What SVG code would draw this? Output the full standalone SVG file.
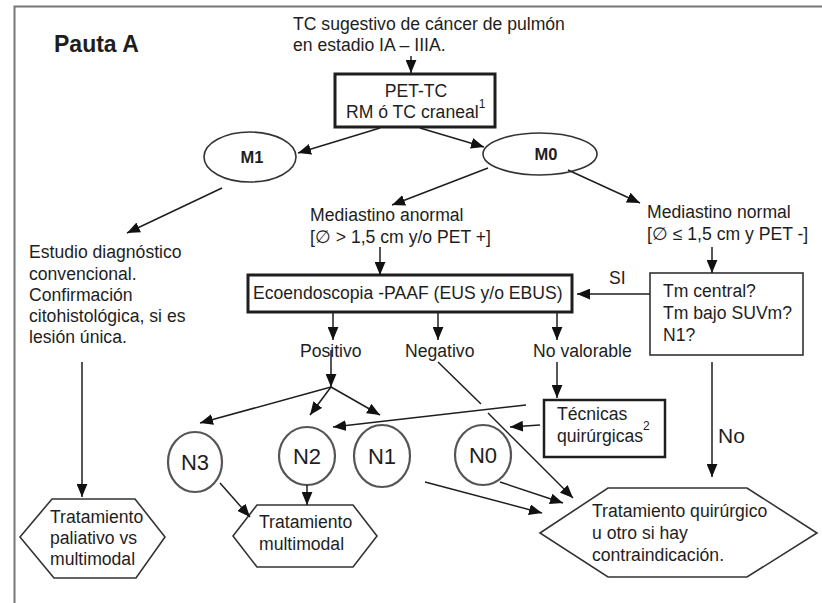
<svg xmlns="http://www.w3.org/2000/svg" width="822" height="603" viewBox="0 0 822 603">
<defs>
<style>
text{font-family:"Liberation Sans",Arial,sans-serif;font-size:17.6px;fill:#1e1e1e}
.b{font-weight:bold}
.c{text-anchor:middle}
.sup{font-size:12px}
.n{font-size:22px}
.m{font-size:16.5px;font-weight:bold}
.box{fill:#fff;stroke:#1e1e1e;stroke-width:3}
.thin{fill:#fff;stroke:#333;stroke-width:1.6}
.hex{fill:#fff;stroke:#333;stroke-width:1.6}
.circ{fill:#fff;stroke:#555;stroke-width:2.2}
.conn line,.conn path{stroke:#1e1e1e;stroke-width:1.5;fill:none}
.arr{marker-end:url(#ah)}
</style>
<marker id="ah" viewBox="0 0 12 10" refX="12" refY="5" markerWidth="13" markerHeight="11" markerUnits="userSpaceOnUse" orient="auto">
<path d="M0,0 L12,5 L0,10 z" fill="#111"/>
</marker>
</defs>
<rect width="822" height="603" fill="#fff"/>
<path d="M14.5,603 V6.5 H822" fill="none" stroke="#777" stroke-width="2"/>
<g id="title"><text x="54" y="52" class="b" style="font-size:23px">Pauta A</text></g>

<g id="start">
<text x="293" y="30">TC sugestivo de cáncer de pulmón</text>
<text x="293" y="51">en estadio IA – IIIA.</text>
</g>

<g id="pet">
<rect x="335" y="74" width="160" height="53" class="box"/>
<text x="416" y="97" class="c">PET-TC</text>
<text x="346" y="118">RM ó TC craneal<tspan class="sup" dy="-10">1</tspan></text>
</g>

<g id="m1">
<ellipse cx="250" cy="157" rx="46" ry="25" class="thin"/>
<text x="252" y="163" class="c m">M1</text>
</g>
<g id="m0">
<ellipse cx="540" cy="154" rx="57" ry="21" class="thin"/>
<text x="546" y="160" class="c m">M0</text>
</g>

<g id="estudio">
<text x="29" y="258">Estudio diagnóstico</text>
<text x="29" y="280">convencional.</text>
<text x="29" y="301">Confirmación</text>
<text x="29" y="322">citohistológica, si es</text>
<text x="29" y="343">lesión única.</text>
</g>

<g id="med-anormal">
<text x="310" y="221">Mediastino anormal</text>
<text x="310" y="243">[∅ &gt; 1,5 cm y/o PET +]</text>
</g>
<g id="med-normal">
<text x="647" y="218">Mediastino normal</text>
<text x="647" y="240">[∅ ≤ 1,5 cm y PET -]</text>
</g>

<g id="eco">
<rect x="248" y="275" width="324" height="37" class="box"/>
<text x="253" y="299">Ecoendoscopia -PAAF (EUS y/o EBUS)</text>
</g>

<g id="tm">
<rect x="650" y="273" width="153" height="82" class="thin"/>
<text x="663" y="297">Tm central?</text>
<text x="663" y="319">Tm bajo SUVm?</text>
<text x="663" y="341">N1?</text>
</g>

<g id="positivo"><text x="300" y="357">Positivo</text></g>
<g id="negativo"><text x="405" y="357">Negativo</text></g>
<g id="novalorable"><text x="533" y="357">No valorable</text></g>

<g id="tecnicas">
<rect x="544" y="400" width="121" height="57" class="box" style="stroke-width:2.5"/>
<text x="557" y="420">Técnicas</text>
<text x="557" y="442">quirúrgicas<tspan class="sup" dy="-12">2</tspan></text>
</g>

<g id="n3"><ellipse cx="195" cy="462" rx="27" ry="30" class="circ"/><text x="195" y="470" class="c n">N3</text></g>
<g id="n2"><ellipse cx="307" cy="456" rx="28" ry="29" class="circ"/><text x="307" y="464" class="c n">N2</text></g>
<g id="n1"><ellipse cx="382" cy="456" rx="28" ry="31" class="circ"/><text x="382" y="464" class="c n">N1</text></g>
<g id="n0"><ellipse cx="483" cy="455" rx="28" ry="30" class="circ"/><text x="483" y="463" class="c n">N0</text></g>

<g id="paliativo">
<polygon points="20,537 52,499 135,499 165,537 136,578 54,578" class="hex"/>
<text x="50" y="523">Tratamiento</text>
<text x="50" y="544">paliativo vs</text>
<text x="50" y="565">multimodal</text>
</g>

<g id="multimodal">
<polygon points="233,536 257,505 353,505 377,536 353,567 257,567" class="hex"/>
<text x="259" y="528">Tratamiento</text>
<text x="259" y="550">multimodal</text>
</g>

<g id="quirurgico">
<polygon points="540,533 608,488 747,488 817,533 747,577 608,577" class="hex"/>
<text x="592" y="517">Tratamiento quirúrgico</text>
<text x="592" y="539">u otro si hay</text>
<text x="592" y="561">contraindicación.</text>
</g>

<g id="labels">
<text x="609" y="284">SI</text>
<text x="718" y="443" style="font-size:21px">No</text>
</g>

<g class="conn" id="connectors">
<line x1="411" y1="56" x2="411" y2="73" class="arr"/>
<line x1="380" y1="128" x2="298" y2="153" class="arr"/>
<line x1="420" y1="128" x2="484" y2="147" class="arr"/>
<line x1="222" y1="188" x2="127" y2="233" class="arr"/>
<line x1="488" y1="168" x2="392" y2="205" class="arr"/>
<line x1="568" y1="170" x2="640" y2="203" class="arr"/>
<line x1="380" y1="247" x2="380" y2="275" class="arr"/>
<line x1="712" y1="247" x2="712" y2="273" class="arr"/>
<line x1="650" y1="294" x2="577" y2="294" class="arr"/>
<line x1="333" y1="312" x2="333" y2="340" class="arr"/>
<line x1="438" y1="312" x2="438" y2="340" class="arr"/>
<line x1="557" y1="312" x2="557" y2="340" class="arr"/>
<line x1="331" y1="350" x2="331" y2="387" class="arr"/>
<line x1="331" y1="387" x2="200" y2="423" class="arr"/>
<line x1="331" y1="387" x2="310" y2="415" class="arr"/>
<line x1="331" y1="387" x2="380" y2="415" class="arr"/>
<line x1="526" y1="405" x2="333" y2="427" class="arr"/>
<line x1="540" y1="425" x2="510" y2="427" class="arr"/>
<line x1="438" y1="362" x2="481" y2="404"/>
<line x1="488" y1="413" x2="573" y2="498" class="arr"/>
<line x1="557" y1="362" x2="557" y2="398" class="arr"/>
<line x1="712" y1="362" x2="712" y2="477" class="arr"/>
<line x1="220" y1="483" x2="250" y2="517" class="arr"/>
<line x1="307" y1="485" x2="307" y2="505" class="arr"/>
<line x1="425" y1="482" x2="542" y2="513" class="arr"/>
<line x1="500" y1="482" x2="563" y2="503" class="arr"/>
<line x1="82" y1="362" x2="82" y2="497" class="arr"/>
</g>
</svg>
